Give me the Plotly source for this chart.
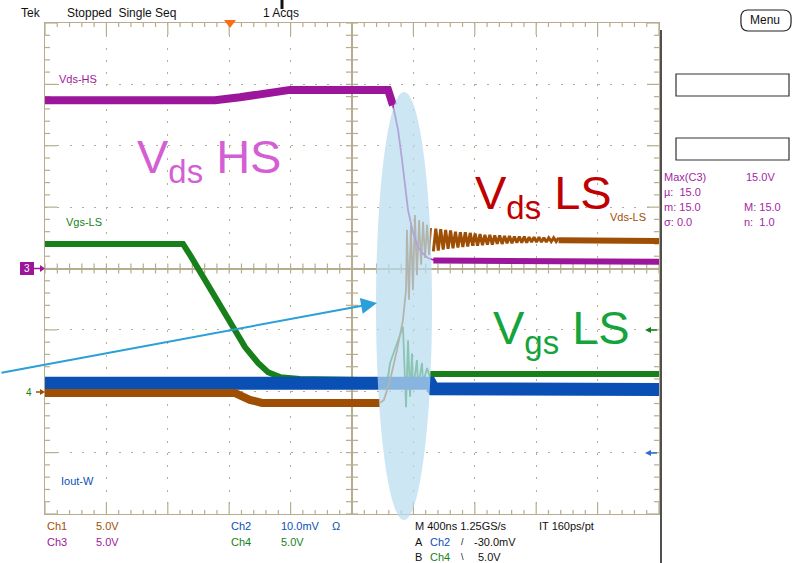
import plotly.graph_objects as go

# ---------------- data: time in ns (400 ns/div), amplitude in screen divisions ----------------
# Ch3  Vds-HS (magenta)
ch3_pre_t = [-2000, -892, -730, -567, -404, 235, 267]
ch3_pre_v = [2.74, 2.74, 2.79, 2.86, 2.91, 2.91, 2.66]
ch3_edge_t = [267, 300, 326, 365, 397, 430, 463, 495, 541]
ch3_edge_v = [2.66, 2.26, 1.77, 0.95, 0.59, 0.35, 0.24, 0.17, 0.13]
ch3_post_t = [530, 2000]
ch3_post_v = [0.13, 0.11]

# Ch1  Vds-LS (brown)
ch1_pre_t = [-2000, -762, -665, -586, 182]
ch1_pre_v = [-2.03, -2.03, -2.14, -2.19, -2.19]
ch1_edge_t = [182, 208, 248, 293, 332, 352, 358, 371, 384, 397, 410, 423, 437, 450, 463, 476, 489, 502, 515]
ch1_edge_v = [-2.19, -2.14, -1.82, -1.33, -0.84, -0.35, 0.63, -0.51, 0.71, -0.35, 0.87, -0.11, 0.79, 0.06,
              0.76, 0.17, 0.71, 0.22, 0.66]
ch1_ring_t = [530, 546, 562, 578, 594, 610, 626, 642, 658, 674, 690, 706, 722, 738, 754, 770, 786, 802,
              818, 834, 850, 866, 882, 898, 914, 930, 946, 962, 978, 994, 1010, 1026, 1042, 1058, 1074,
              1090, 1106, 1122, 1138, 1154, 1170, 1186, 1202, 1218, 1234, 1250, 1266, 1282, 1298, 1314,
              1330, 1346]
ch1_ring_v = [0.28, 0.65, 0.29, 0.64, 0.31, 0.63, 0.32, 0.62, 0.33, 0.60, 0.34, 0.59, 0.35, 0.59, 0.36,
              0.58, 0.37, 0.57, 0.37, 0.56, 0.38, 0.55, 0.39, 0.55, 0.39, 0.54, 0.40, 0.54, 0.40, 0.53,
              0.41, 0.53, 0.41, 0.52, 0.42, 0.52, 0.42, 0.52, 0.42, 0.51, 0.43, 0.51, 0.43, 0.51, 0.43,
              0.50, 0.43, 0.50, 0.44, 0.50, 0.44, 0.50]
ch1_post_t = [1346, 2000]
ch1_post_v = [0.46, 0.45]

# Ch4  Vgs-LS (green)
ch4_pre_t = [-2000, -1101, -1055, -990, -893, -795, -697, -612, -547, -469, -339, 156]
ch4_pre_v = [0.40, 0.40, 0.22, -0.06, -0.43, -0.87, -1.28, -1.54, -1.69, -1.77, -1.80, -1.82]
ch4_edge_t = [156, 228, 248, 293, 326, 332, 352, 365, 378, 391, 397, 423, 430, 456, 463, 489, 508]
ch4_edge_v = [-1.82, -1.87, -1.54, -1.21, -1.00, -0.95, -2.26, -1.17, -2.09, -1.38, -1.98, -1.49, -1.93,
              -1.54, -1.87, -1.62, -1.77]
ch4_post_t = [508, 2000]
ch4_post_v = [-1.72, -1.72]

# Ch2  Iout-W (blue)
ch2_t = [-2000, 160, 510, 530, 2000]
ch2_v = [-1.87, -1.87, -1.87, -1.96, -1.97]

# ---------------- helpers ----------------
W, H = 806, 563
L_, R_, T_, B_ = 45, 659, 23, 514
def px(x):
    return (x - L_) / (R_ - L_)
def py(y):
    return (B_ - y) / (B_ - T_)

PX_T = 4000 / (R_ - L_)      # ns per pixel
PX_V = 8 / (B_ - T_)         # div per pixel
GR = "#b5ad8e"
FONT = "Liberation Sans, Arial, sans-serif"

fig = go.Figure()

# graticule tick marks
gx, gy = [], []
def seg(x0, y0, x1, y1):
    gx.extend([x0, x1, None]); gy.extend([y0, y1, None])
for k in range(51):
    t = -2000 + 80 * k
    Lt = 12 if k % 5 == 0 else 4
    seg(t, 4, t, 4 - Lt * PX_V)
    seg(t, -4, t, -4 + Lt * PX_V)
    seg(t, -5 * PX_V, t, 5 * PX_V)
for j in range(41):
    v = round(-4 + 0.2 * j, 3)
    Lt = 12 if j % 5 == 0 else 5
    seg(-2000, v, -2000 + Lt * PX_T, v)
    seg(2000, v, 2000 - Lt * PX_T, v)
    seg(-6 * PX_T, v, 6 * PX_T, v)
fig.add_trace(go.Scatter(x=gx, y=gy, mode="lines", line=dict(color=GR, width=1.2),
                         hoverinfo="skip", showlegend=False))

def trace(t, v, color, width):
    fig.add_trace(go.Scatter(x=t, y=v, mode="lines", line=dict(color=color, width=width),
                             hoverinfo="skip", showlegend=False))

GREEN = "#17801a"; BLUE = "#0a4fb4"; BROWN = "#9e4f05"; MAG = "#9c169c"
trace(ch4_pre_t, ch4_pre_v, GREEN, 6)
trace(ch4_edge_t, ch4_edge_v, GREEN, 1.8)
trace(ch4_post_t, ch4_post_v, GREEN, 6)
trace(ch2_t, ch2_v, BLUE, 13)
trace(ch1_pre_t, ch1_pre_v, BROWN, 8)
trace(ch1_edge_t, ch1_edge_v, BROWN, 1.8)
trace(ch1_ring_t, ch1_ring_v, BROWN, 3)
trace(ch1_post_t, ch1_post_v, BROWN, 6)
trace(ch3_pre_t, ch3_pre_v, MAG, 8)
trace(ch3_edge_t, ch3_edge_v, MAG, 1.8)
trace(ch3_post_t, ch3_post_v, MAG, 6)

shapes = []
# highlight ellipse
shapes.append(dict(type="circle", xref="paper", yref="paper", x0=px(376), x1=px(432),
                   y0=py(92), y1=py(520), fillcolor="rgba(185,220,240,0.72)",
                   line=dict(width=0), layer="above"))
# dark frame line at right
shapes.append(dict(type="line", xref="paper", yref="paper", x0=px(661), x1=px(661), y0=py(30), y1=py(563),
                   line=dict(color="#505050", width=2)))
# measurement boxes
for y0, y1 in [(74, 96), (138, 160)]:
    shapes.append(dict(type="rect", xref="paper", yref="paper", x0=px(676), x1=px(789), y0=py(y0), y1=py(y1),
                       line=dict(color="#333333", width=1.2), fillcolor="white"))
# Menu button (rounded)
def P(x, y):
    return f"{px(x)},{py(y)}"
shapes.append(dict(type="path", xref="paper", yref="paper",
                   path=f"M {P(748,10)} L {P(783,10)} Q {P(792,10)} {P(791,20)} Q {P(792,31)} {P(783,31)} "
                        f"L {P(748,31)} Q {P(740,31)} {P(741,20)} Q {P(740,10)} {P(748,10)} Z",
                   line=dict(color="#222222", width=1.2)))
# trigger position marker
shapes.append(dict(type="path", xref="paper", yref="paper",
                   path=f"M {P(224,20)} L {P(236,20)} L {P(230,28)} Z", fillcolor="#ff6a14",
                   line=dict(width=0)))
shapes.append(dict(type="line", xref="paper", yref="paper", x0=px(282), x1=px(282), y0=py(0), y1=py(9),
                   line=dict(color="#111111", width=3)))
# channel 3 ground marker
shapes.append(dict(type="rect", xref="paper", yref="paper", x0=px(20), x1=px(34), y0=py(262), y1=py(275),
                   fillcolor=MAG, line=dict(width=0)))
shapes.append(dict(type="line", xref="paper", yref="paper", x0=px(34), x1=px(41), y0=py(268.5), y1=py(268.5),
                   line=dict(color=MAG, width=1.5)))
shapes.append(dict(type="path", xref="paper", yref="paper",
                   path=f"M {P(40,265)} L {P(45,268.5)} L {P(40,272)} Z", fillcolor=MAG, line=dict(width=0)))
# channel 4 / 1 marker
shapes.append(dict(type="line", xref="paper", yref="paper", x0=px(36), x1=px(41), y0=py(392), y1=py(392),
                   line=dict(color=BROWN, width=1.5)))
shapes.append(dict(type="path", xref="paper", yref="paper",
                   path=f"M {P(40,389)} L {P(45,392)} L {P(40,395)} Z", fillcolor=BROWN, line=dict(width=0)))
# right side markers
for yy, col in [(330, GREEN), (453, "#2f6fd0")]:
    shapes.append(dict(type="line", xref="paper", yref="paper", x0=px(650), x1=px(657), y0=py(yy), y1=py(yy),
                       line=dict(color=col, width=1.5)))
    shapes.append(dict(type="path", xref="paper", yref="paper",
                       path=f"M {P(651, yy - 3)} L {P(645, yy)} L {P(651, yy + 3)} Z",
                       fillcolor=col, line=dict(width=0)))

ann = []
def text(x, y, s, color="#111111", size=12, anchor="left"):
    ann.append(dict(x=px(x), y=py(y), xref="paper", yref="paper", text=s, showarrow=False,
                    xanchor=anchor, yanchor="middle", font=dict(family=FONT, size=size, color=color)))

# header
text(19, 13, "Tek")
text(65, 13, "Stopped  Single Seq")
text(261, 13, "1 Acqs")
text(765, 20.5, "Menu", size=12, anchor="center")

# measurement panel
MC = "#a326a3"
text(662, 177, "Max(C3)", MC, 11)
text(744, 177, "15.0V", MC, 11)
text(662, 192, "µ:  15.0", MC, 11)
text(662, 207, "m: 15.0", MC, 11)
text(742, 207, "M: 15.0", MC, 11)
text(662, 222, "σ: 0.0", MC, 11)
text(742, 222, "n:  1.0", MC, 11)

# footer
text(45, 526, "Ch1", BROWN, 11); text(94, 526, "5.0V", BROWN, 11)
text(45, 542, "Ch3", MAG, 11); text(94, 542, "5.0V", MAG, 11)
text(229, 526, "Ch2", BLUE, 11); text(279, 526, "10.0mV", BLUE, 11); text(330, 526, "Ω", BLUE, 11)
text(229, 542, "Ch4", GREEN, 11); text(279, 542, "5.0V", GREEN, 11)
text(413, 526, "M 400ns 1.25GS/s", "#111111", 11); text(537, 526, "IT 160ps/pt", "#111111", 11)
text(413, 542, "A", "#111111", 11); text(428, 542, "Ch2", BLUE, 11)
text(459, 542, "/", "#111111", 9); text(472, 542, "-30.0mV", "#111111", 11)
text(413, 557, "B", "#111111", 11); text(428, 557, "Ch4", GREEN, 11)
text(459, 557, "\\", "#111111", 9); text(476, 557, "5.0V", "#111111", 11)

# trace labels
text(57, 79, "Vds-HS", MAG, 11)
text(64, 222, "Vgs-LS", GREEN, 11)
text(608, 217, "Vds-LS", BROWN, 11)
text(59, 481, "Iout-W", BLUE, 11)

# channel marker digits
text(27, 268.5, "3", "white", 10, "center")
text(29, 392, "4", GREEN, 10, "center")

# big overlay labels
text(135, 160, "V<sub>ds</sub> HS", "#d45fd4", 47)
text(473, 196, "V<sub>ds</sub> LS", "#c00000", 47)
text(491, 331, "V<sub>gs</sub> LS", "#14a43c", 47)

# blue pointer arrow
ann.append(dict(x=px(377), y=py(303), xref="paper", yref="paper", ax=-377, ay=70, axref="pixel",
                ayref="pixel", showarrow=True, arrowhead=2, arrowsize=1.6, arrowwidth=2,
                arrowcolor="#2a9fd8", text=""))

fig.update_layout(
    width=W, height=H, autosize=False,
    margin=dict(l=L_, r=W - R_, t=T_, b=H - B_, pad=0),
    paper_bgcolor="white", plot_bgcolor="white",
    shapes=shapes, annotations=ann, showlegend=False,
    xaxis=dict(range=[-2000, 2000], showgrid=True, dtick=400, tick0=0, gridcolor=GR, gridwidth=1,
               griddash="2px,10.28px", zeroline=True, zerolinecolor=GR, zerolinewidth=1.5,
               showline=True, mirror=True, linecolor=GR, linewidth=1.2, showticklabels=False,
               ticks="", fixedrange=True),
    yaxis=dict(range=[-4, 4], showgrid=True, dtick=1, tick0=0, gridcolor=GR, gridwidth=1,
               griddash="2px,10.28px", zeroline=True, zerolinecolor=GR, zerolinewidth=1.5,
               showline=True, mirror=True, linecolor=GR, linewidth=1.2, showticklabels=False,
               ticks="", fixedrange=True),
)

fig.write_html("out.html", config={"displayModeBar": False},
               post_script="document.body.style.margin='0px';document.body.style.overflow='hidden';")
